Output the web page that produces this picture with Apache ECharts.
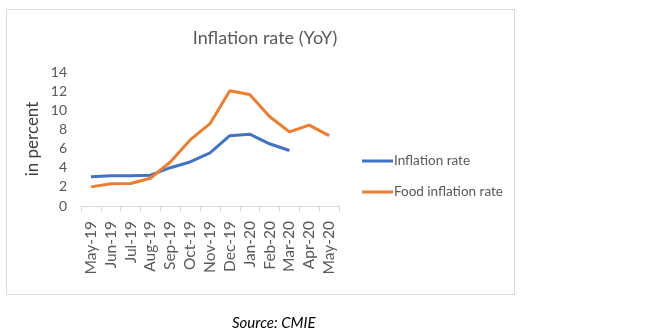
<!DOCTYPE html>
<html><head><meta charset="utf-8">
<script src="https://cdn.jsdelivr.net/npm/echarts@6/dist/echarts.min.js"></script>
<style>html,body{margin:0;padding:0;background:#fff}#c{width:648px;height:336px}</style>
</head><body><div id="c"></div>
<script>
const categories = ['May-19','Jun-19','Jul-19','Aug-19','Sep-19','Oct-19','Nov-19','Dec-19','Jan-20','Feb-20','Mar-20','Apr-20','May-20'];
const inflationRate = [3.05, 3.15, 3.15, 3.22, 4.0, 4.6, 5.55, 7.35, 7.5, 6.5, 5.8, null, null];
const foodInflationRate = [2.0, 2.33, 2.35, 2.9, 4.6, 6.9, 8.6, 12.05, 11.65, 9.35, 7.75, 8.45, 7.35];
const yTicks = [0, 14, 2];
const font = 'Lato, "Open Sans", sans-serif';
const chart = echarts.init(document.getElementById('c'));
chart.setOption({
  animation: false,
  title: { text: 'Inflation rate (YoY)', left: 260, top: 24, textAlign: 'center',
    textStyle: { fontFamily: font, fontSize: 18, fontWeight: 'normal', color: '#595959' } },
  legend: {
    orient: 'vertical', left: 357, top: 149, itemGap: 17, itemWidth: 31, itemHeight: 3,
    icon: 'rect',
    textStyle: { fontFamily: font, fontSize: 13.5, color: '#595959', padding: [0,0,0,-4] },
    data: ['Inflation rate', 'Food inflation rate']
  },
  grid: { left: 81, width: 258, top: 72, height: 134 },
  xAxis: {
    type: 'category', data: categories, boundaryGap: true,
    axisLine: { lineStyle: { color: '#d9d9d9' } },
    axisTick: { show: true, length: 6, alignWithLabel: false, lineStyle: { color: '#d9d9d9' } },
    axisLabel: { rotate: 90, interval: 0, fontFamily: font, fontSize: 15.5, color: '#595959', margin: 15 }
  },
  yAxis: {
    type: 'value', min: yTicks[0], max: yTicks[1], interval: yTicks[2],
    name: 'in percent', nameLocation: 'middle', nameGap: 40, nameRotate: 90,
    nameTextStyle: { fontFamily: font, fontSize: 17, color: '#404040' },
    axisLine: { show: false }, axisTick: { show: false }, splitLine: { show: false },
    axisLabel: { fontFamily: font, fontSize: 14, color: '#595959', margin: 14 }
  },
  series: [
    { name: 'Inflation rate', type: 'line', data: inflationRate, symbol: 'none', connectNulls: false,
      lineStyle: { width: 3, color: '#4472C4' }, itemStyle: { color: '#4472C4' } },
    { name: 'Food inflation rate', type: 'line', data: foodInflationRate, symbol: 'none',
      lineStyle: { width: 3, color: '#ED7D31' }, itemStyle: { color: '#ED7D31' } }
  ],
  graphic: [
    { type: 'rect', shape: { x: 6.5, y: 9.5, width: 508, height: 285 }, style: { fill: 'none', stroke: '#d9d9d9', lineWidth: 1 }, z: -1 },
    { type: 'text', left: 232, top: 316, style: { text: 'Source: CMIE', font: 'italic 15px ' + font, fill: '#000' } }
  ]
});
</script></body></html>
